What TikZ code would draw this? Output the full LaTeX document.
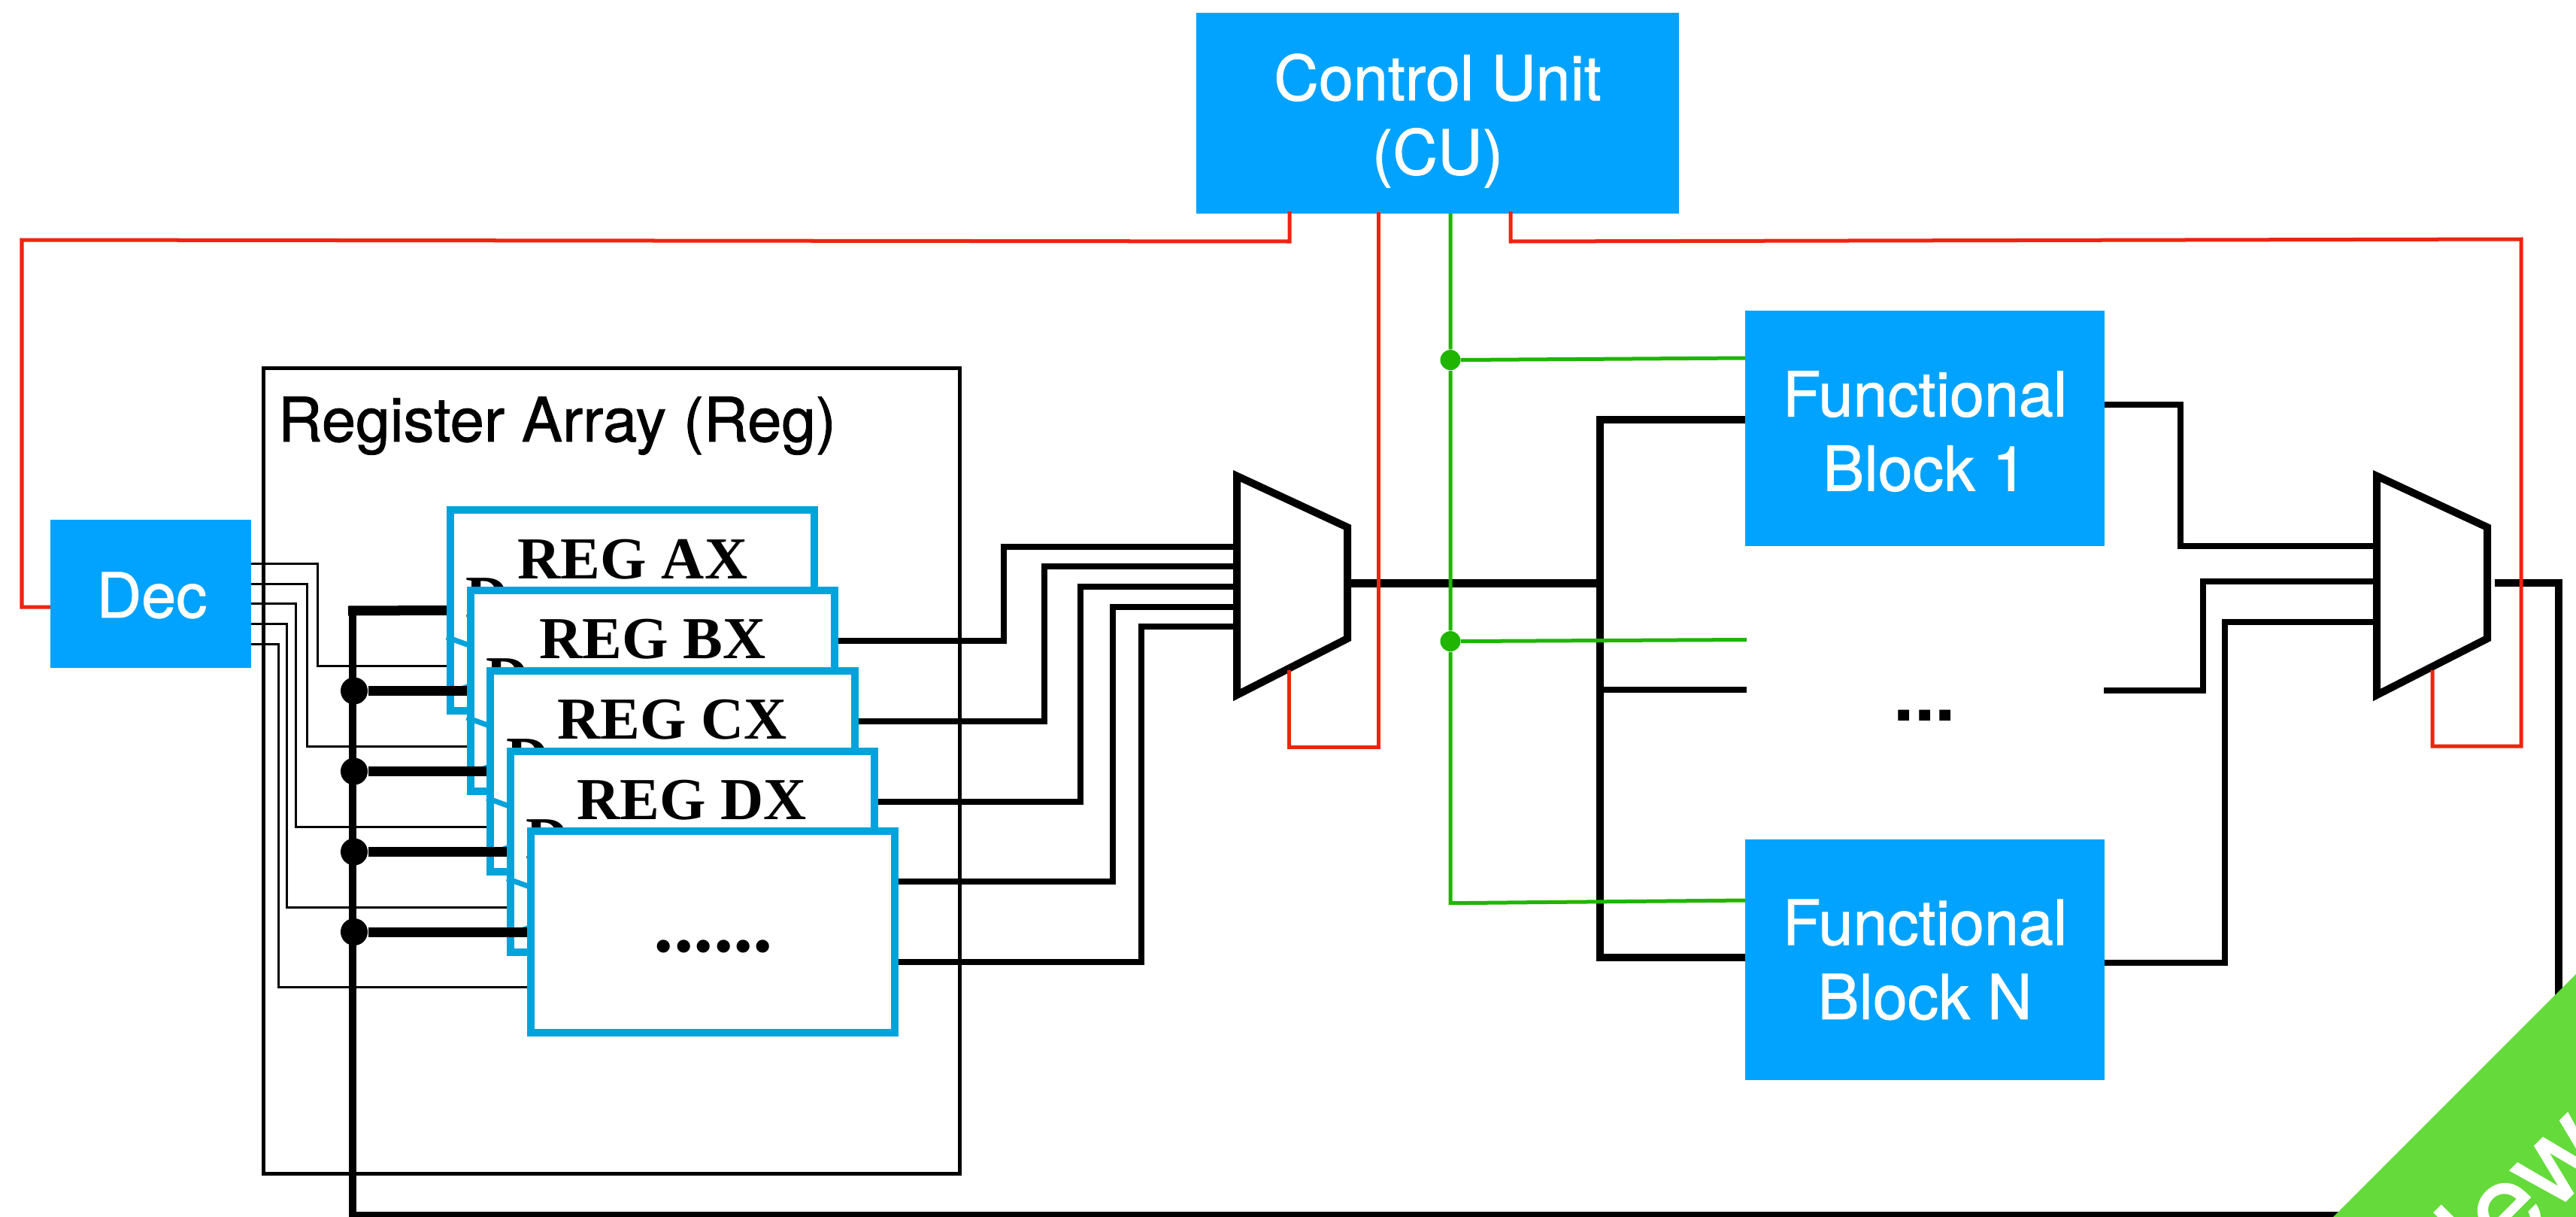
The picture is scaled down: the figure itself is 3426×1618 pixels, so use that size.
\documentclass[tikz,border=0pt]{standalone}
\usepackage{fontspec}
\setmainfont{TeX Gyre Heros}
\newfontfamily\medfont[FakeBold=1.0]{TeX Gyre Heros}
\newfontfamily\regfont{Liberation Serif}
\usetikzlibrary{calc}
\definecolor{blockblue}{HTML}{02A3FF}
\definecolor{regblue}{HTML}{00A3DA}
\definecolor{ctlred}{HTML}{EE2410}
\definecolor{ctlgreen}{HTML}{1FB500}
\definecolor{bannergreen}{HTML}{64DB3A}
\tikzset{
  blockbox/.style={fill=blockblue,inner sep=0pt,outer sep=0pt},
  blocktext/.style={text=white,align=center,inner sep=0pt,font=\medfont\fontsize{23.5}{28.1}\selectfont},
  regbox/.style={draw=regblue,fill=white,line width=.1cm,inner sep=0pt,minimum width=4.84cm,minimum height=2.67cm},
  regname/.style={inner sep=0pt,anchor=base,font=\regfont\bfseries\fontsize{22.5}{26}\selectfont},
  clockmark/.style={draw=regblue,line width=.07cm},
  outer/.style={draw=black,line width=.05cm},
  thinwire/.style={draw=black,line width=.03cm},
  stubwire/.style={draw=black,line width=.13cm},
  wire/.style={draw=black,line width=.08cm},
  buswire/.style={draw=black,line width=.1cm},
  muxshape/.style={draw=black,fill=white,line width=.1cm,miter limit=10},
  ctl/.style={draw=ctlred,line width=.05cm},
  grn/.style={draw=ctlgreen,line width=.05cm},
  blackdot/.style={circle,fill=black,inner sep=0pt,minimum size=.36cm},
  greendot/.style={circle,fill=ctlgreen,inner sep=0pt,minimum size=.27cm}
}
\begin{document}
\begin{tikzpicture}[x=0.01cm,y=-0.01cm]
\useasboundingbox (0,0) rectangle (3426,1618);
\fill[white] (0,0) rectangle (3426,1618);

% blocks
\node[blockbox,minimum width=6.42cm,minimum height=2.67cm] (cu) at (1912,150.5) {};
\node[blocktext] (cutext) at (1912,160.5) {Control Unit\\(CU)};
\node[blockbox,minimum width=2.67cm,minimum height=1.97cm] (dec) at (200.5,789.5) {};
\node[blocktext] (dectext) at (202,791.5) {Dec};
\node[blockbox,minimum width=4.78cm,minimum height=3.13cm] (fa) at (2560,569.5) {};
\node[blocktext] (fatext) at (2560,573.5) {Functional\\Block 1};
\node[blockbox,minimum width=4.78cm,minimum height=3.20cm] (fn) at (2560,1276) {};
\node[blocktext] (fntext) at (2560,1276) {Functional\\Block N};
\node[inner sep=0pt,anchor=base,font=\bfseries\fontsize{28}{30}\selectfont] (fdots) at (2560,958) {...};

% register array frame
\node[outer,fill=none,inner sep=0pt,minimum width=9.255cm,minimum height=10.705cm] (arr) at (813.25,1025.25) {};
\node[inner sep=0pt,anchor=base west,font=\medfont\fontsize{23.2}{26}\selectfont] (arrtext) at (369,587) {Register Array (Reg)};

% registers
\foreach \n/\i/\t in {A/0/REG AX,B/1/REG BX,C/2/REG CX,D/3/REG DX}{
  \node[regbox] (reg\n) at (841+\i*26.75,811.5+\i*107) {};
  \node[regname] (name\n) at (841.5+\i*26.25,769+\i*106.7) {\t};
  \node[regname,anchor=base west] (dee\n) at ($(reg\n.west)+(25,8.5)$) {D};
  \draw[clockmark] ($(reg\n.west)+(0,35.5)$) -- ($(reg\n.west)+(105,73.5)$) -- ($(reg\n.west)+(0,111.5)$);
}
\node[regbox] (regE) at (947.75,1239) {};
\node[regname,font=\regfont\bfseries\fontsize{30}{32}\selectfont] (nameE) at (949,1265) {......};

% decoder select lines
\draw[thinwire] (dec.east |- 0,749) -- (422,749) |- ($(regA.west)+(0,73.5)$);
\draw[thinwire] (dec.east |- 0,776) -- (408,776) |- ($(regB.west)+(0,73.5)$);
\draw[thinwire] (dec.east |- 0,802) -- (393,802) |- ($(regC.west)+(0,73.5)$);
\draw[thinwire] (dec.east |- 0,829) -- (381,829) |- ($(regD.west)+(0,73.5)$);
\draw[thinwire] (dec.east |- 0,856) -- (370,856) |- ($(regE.west)+(0,73.5)$);

% feedback bus and register data inputs
\coordinate (busTop) at (469,812);
\coordinate (busLeft) at (463,812);
\coordinate (fbCorner) at (469,1616);
\coordinate (fbRight) at (3403,1616);
\coordinate (m2out) at (3318,775);
\draw[buswire] (m2out) -| (fbRight) -- (fbCorner) -- (busTop);
\draw[stubwire] (busLeft) -- (regA.west);
\foreach \n in {B,C,D,E}{
  \node[blackdot] (j\n) at (471,0 |- reg\n.west) {};
  \draw[stubwire] (j\n) -- (reg\n.west);
}

% multiplexers
\draw[muxshape] (1645,632.8) coordinate (m1a) -- (1792,701) -- (1792,849) -- (1645,924) -- cycle;
\draw[muxshape] (3161,632.8) coordinate (m2a) -- (3308,701) -- (3308,849) -- (3161,924) -- cycle;
\coordinate (m1i1) at (1645,727);
\coordinate (m1i2) at (1645,753);
\coordinate (m1i3) at (1645,780);
\coordinate (m1i4) at (1645,807);
\coordinate (m1i5) at (1645,833);
\coordinate (m1o) at (1792,775);
\coordinate (m2i1) at (3156,726);
\coordinate (m2i2) at (3156,773);
\coordinate (m2i3) at (3156,827);

% register outputs to first mux
\draw[wire] ($(regB.east)+(0,-67)$) -| (1335,727) -- (m1i1);
\draw[wire] ($(regC.east)+(0,-67)$) -| (1389,753) -- (m1i2);
\draw[wire] ($(regD.east)+(0,-67)$) -| (1437,780) -- (m1i3);
\draw[wire] ($(regE.east)+(0,-67)$) -| (1480,807) -- (m1i4);
\draw[wire] ($(regE.east)+(0,40)$) -| (1518,833) -- (m1i5);

% first mux to functional blocks
\coordinate (busT) at (2128,558);
\coordinate (busM) at (2128,775);
\coordinate (busM2) at (2128,916.5);
\coordinate (busB) at (2128,1273);
\draw[buswire,line width=.11cm] (m1o) -- (busM);
\draw[buswire] (fa.west |- busT) -- (busT) -- (busB) -- (fn.west |- busB);
\coordinate (f2in) at (2323,916.5);
\draw[wire] (busM2) -- (f2in);

% functional blocks to second mux
\coordinate (f2out) at (2798,918);
\draw[wire] (fa.east |- 0,538) -| (2900,726) -- (m2i1);
\draw[wire] (f2out) -| (2930,773) -- (m2i2);
\draw[wire] (fn.east |- 0,1280) -| (2959,827) -- (m2i3);

% control lines, red
\coordinate (m1sel) at (1714,891);
\coordinate (m2sel) at (3235,891);
\draw[ctl] (1715,281) -- (1715,321) -- (29,319) -- (29,807) -- (dec.west |- 0,807);
\draw[ctl] (1833,282) -- (1833,993) -- (1714,993) -- (m1sel);
\draw[ctl] (2009,281) -- (2009,321) -- (3353,318) -- (3353,992) -- (3235,992) -- (m2sel);

% control lines, green
\node[greendot] (ga) at (1929,478.6) {};
\node[greendot] (gb) at (1929,852.6) {};
\coordinate (gc) at (1929,1200.7);
\coordinate (f2ctl) at (2323,850.5);
\draw[grn] (cu.south -| ga) -- (ga) -- (gb) -- (gc) -- (fn.west |- 0,1197);
\draw[grn] (ga) -- (fa.west |- 0,476);
\draw[grn] (gb) -- (f2ctl);

% corner banner
\begin{scope}
  \clip (3426,1295) -- (3426,1618) -- (3103,1618) -- cycle;
  \fill[bannergreen] (3426,1295) -- (3426,1618) -- (3103,1618) -- cycle;
  \node[text=white,rotate=45,anchor=base west,inner sep=0pt,font=\medfont\fontsize{44}{50}\selectfont] (banner) at (3255.5,1753.5) {New};
\end{scope}
\end{tikzpicture}
\end{document}
